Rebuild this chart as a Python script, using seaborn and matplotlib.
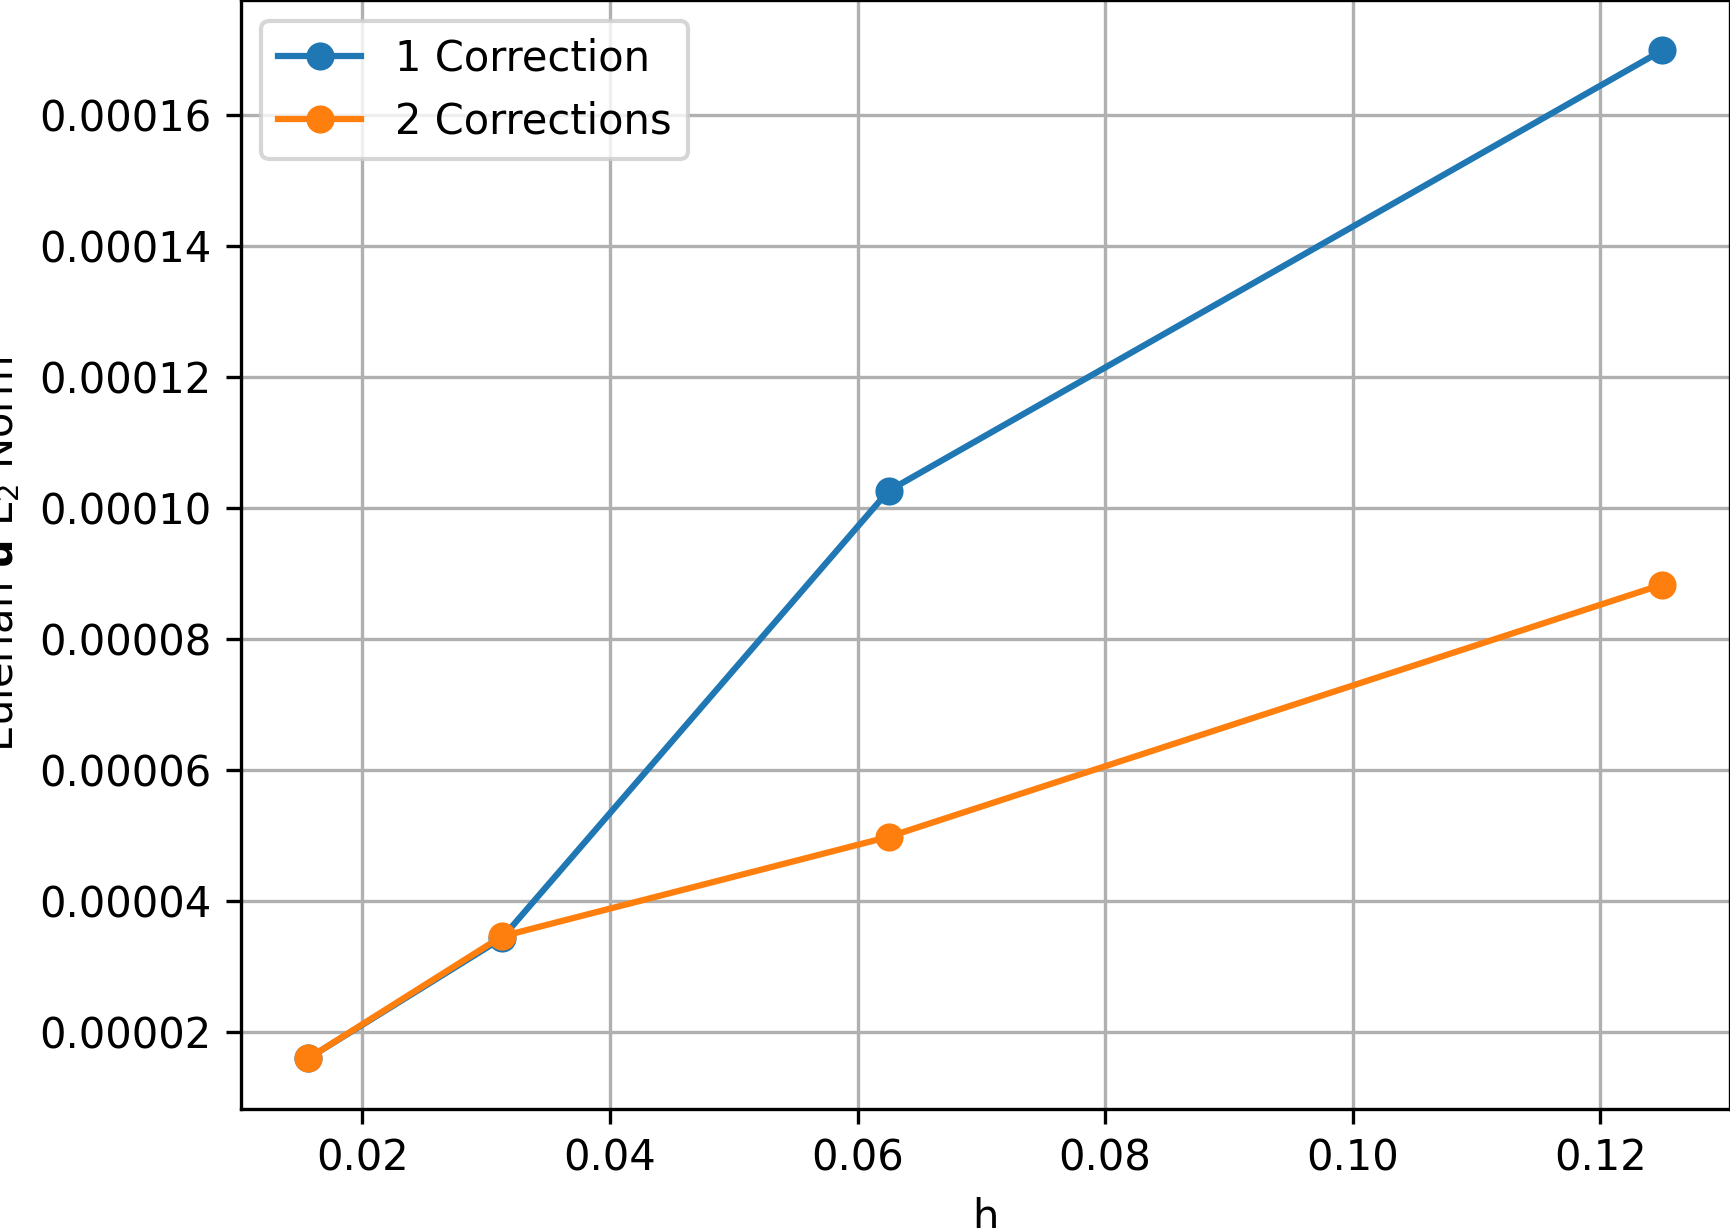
import matplotlib
matplotlib.use("Agg")
import matplotlib.pyplot as plt
import seaborn as sbn
import pandas as pd


# data
h = [0.015625, 0.03125, 0.0625, 0.125]
err_1corr = [0.0000160, 0.0000343, 0.0001026, 0.0001698]
err_2corr = [0.0000160, 0.0000346, 0.0000498, 0.0000883]
labels = ["1 Correction", "2 Corrections"]
colours = ["#1f77b4", "#ff7f0e"]


df = pd.DataFrame({"h": h * 2,
                   "err": err_1corr + err_2corr,
                   "source": [labels[0]] * len(h) + [labels[1]] * len(h)})

fig = plt.figure(figsize=(1730 / 300, 1228 / 300), dpi=300)
ax = fig.add_axes([240.5 / 1730, 1 - 1108.8 / 1228, 1 - 240.5 / 1730, 1108.8 / 1228])

for lab, col in zip(labels, colours):
    sub = df[df.source == lab]
    sbn.lineplot(data=sub, x="h", y="err", color=col, marker="o", markersize=6,
                 markeredgecolor=col, linewidth=1.5, label=lab, ax=ax)

ax.grid(True)
ax.set_xlabel("h")
ax.set_ylabel(r"Eulerian $\mathbf{u}$ L$_2$ Norm")
ax.legend(loc="upper left")

fig.savefig("out.png", dpi=300)
